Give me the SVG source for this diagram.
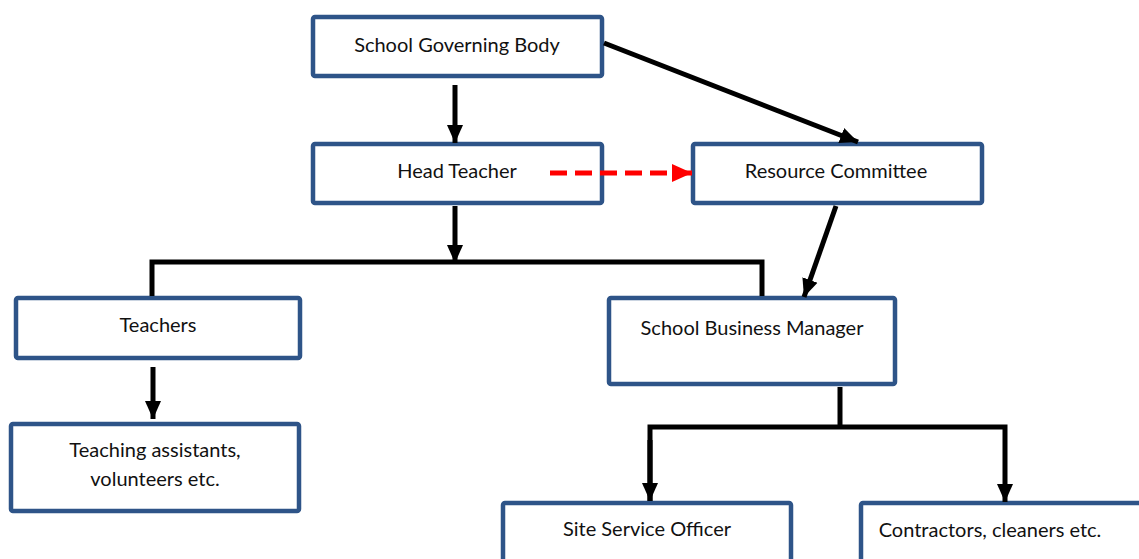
<svg xmlns="http://www.w3.org/2000/svg" width="1139" height="559" viewBox="0 0 1139 559">
<defs>
<style>
.box{fill:#fff;stroke:#2E5488;stroke-width:4.5}
.t{font-family:Lato,"Liberation Sans",sans-serif;font-size:20px;fill:#111;text-anchor:middle}
.c{fill:none;stroke:#000;stroke-width:5}
.r{fill:none;stroke:#f00;stroke-width:5;stroke-dasharray:17 8}
</style>
<marker id="ah" markerUnits="userSpaceOnUse" markerWidth="18" markerHeight="18" viewBox="0 0 18 18" refX="18" refY="9" orient="auto"><path d="M0,1 L18,9 L0,17 Z" fill="#000"/></marker>
<marker id="rh" markerUnits="userSpaceOnUse" markerWidth="20" markerHeight="20" viewBox="0 0 20 20" refX="20" refY="10" orient="auto"><path d="M0,1 L20,10 L0,19 Z" fill="#f00"/></marker>
</defs>
<g id="sgb"><rect class="box" x="313" y="17" width="289" height="59" rx="2"/><text class="t" x="457" y="52">School Governing Body</text></g>
<g id="ht"><rect class="box" x="313" y="144" width="289" height="59" rx="2"/><text class="t" x="457" y="178">Head Teacher</text></g>
<g id="rc"><rect class="box" x="693" y="144" width="289" height="59" rx="2"/><text class="t" x="836" y="178">Resource Committee</text></g>
<g id="teachers"><rect class="box" x="16" y="298" width="284" height="60" rx="2"/><text class="t" x="158" y="332">Teachers</text></g>
<g id="ta"><rect class="box" x="11" y="424" width="288" height="87" rx="2"/><text class="t" x="155" y="457">Teaching assistants,</text><text class="t" x="155" y="486">volunteers etc.</text></g>
<g id="sbm"><rect class="box" x="609" y="298" width="286" height="86" rx="2"/><text class="t" x="752" y="335">School Business Manager</text></g>
<g id="sso"><rect class="box" x="503" y="503" width="288" height="70" rx="2"/><text class="t" x="647" y="536">Site Service Officer</text></g>
<g id="contractors"><rect class="box" x="861" y="503" width="290" height="70" rx="2"/><text class="t" x="990" y="537">Contractors, cleaners etc.</text></g>
<g id="connectors">
<line class="c" x1="455" y1="85" x2="455" y2="143" marker-end="url(#ah)"/>
<line class="c" x1="604" y1="43" x2="858" y2="142" marker-end="url(#ah)"/>
<line class="r" x1="550" y1="173" x2="692" y2="173" marker-end="url(#rh)"/>
<line class="c" x1="836" y1="206" x2="804" y2="297" marker-end="url(#ah)"/>
<line class="c" x1="455" y1="206" x2="455" y2="263" marker-end="url(#ah)"/>
<polyline class="c" points="152,296 152,262 762,262 762,296"/>
<line class="c" x1="153" y1="367" x2="153" y2="419" marker-end="url(#ah)"/>
<line class="c" x1="840" y1="387" x2="840" y2="427"/>
<polyline class="c" points="650,501 650,427 1005,427 1005,502" marker-end="url(#ah)"/>
<line class="c" x1="650" y1="440" x2="650" y2="501" marker-end="url(#ah)"/>
</g>
</svg>
